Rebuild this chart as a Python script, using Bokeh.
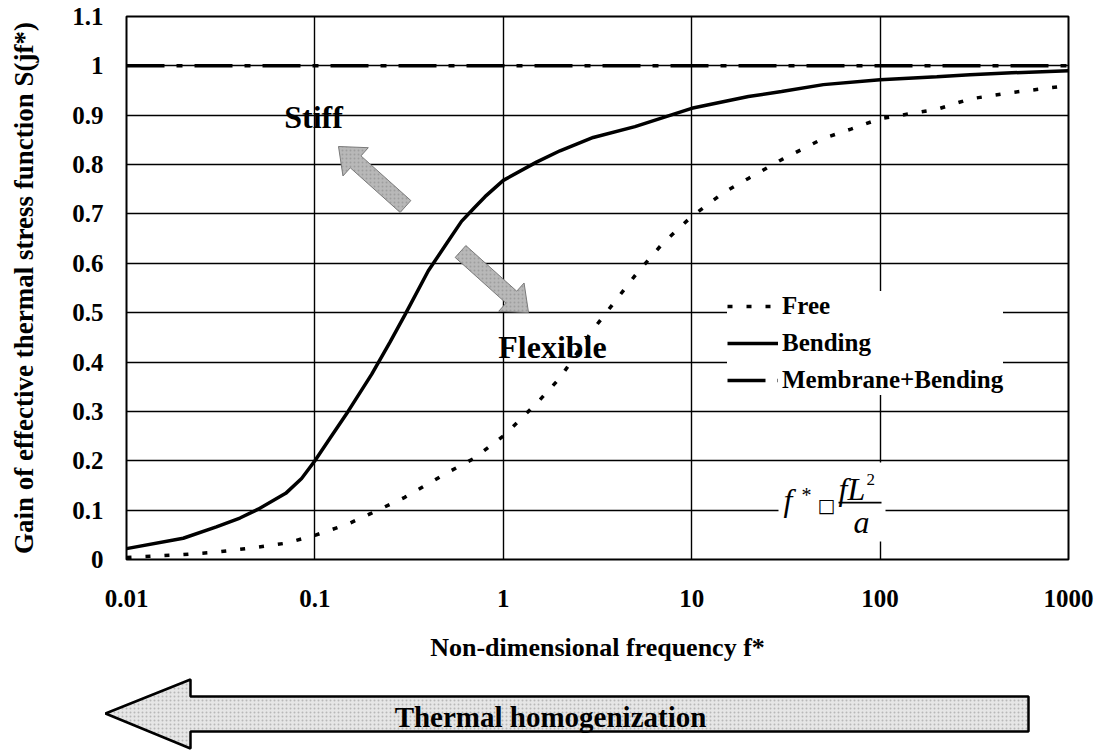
from bokeh.plotting import figure
from bokeh.models import (Range1d, FixedTicker, CustomJSTickFormatter, Label,
                          BoxAnnotation, PolyAnnotation)
from bokeh.embed import file_html
from bokeh.resources import INLINE
import math

# ---------------- data ----------------
free_f = [0.01, 0.02, 0.03, 0.05, 0.07, 0.1, 0.15, 0.2, 0.3, 0.5, 0.7, 1, 1.5, 2, 3, 5, 7,
          10, 15, 20, 30, 50, 70, 100, 200, 300, 500, 1000]
free_s = [0.004, 0.01, 0.015, 0.025, 0.033, 0.049, 0.072, 0.094, 0.126, 0.175, 0.205, 0.25,
          0.316, 0.368, 0.466, 0.575, 0.64, 0.695, 0.745, 0.772, 0.81, 0.853, 0.872, 0.893,
          0.912, 0.933, 0.946, 0.96]

bend_f = [0.01, 0.02, 0.03, 0.04, 0.05, 0.07, 0.085, 0.1, 0.12, 0.15, 0.2, 0.25, 0.3, 0.4,
          0.5, 0.6, 0.7, 0.8, 1, 1.5, 2, 3, 5, 10, 20, 30, 50, 100, 200, 300, 500, 1000]
bend_s = [0.022, 0.043, 0.066, 0.084, 0.102, 0.134, 0.164, 0.2, 0.245, 0.30, 0.375, 0.44,
          0.495, 0.585, 0.64, 0.685, 0.712, 0.735, 0.768, 0.805, 0.828, 0.855, 0.877, 0.914,
          0.938, 0.948, 0.962, 0.972, 0.978, 0.982, 0.986, 0.99]

memb_f = [0.01, 1000]
memb_s = [1.0, 1.0]

x_ticks = [0.01, 0.1, 1, 10, 100, 1000]
y_ticks = [0, 0.1, 0.2, 0.3, 0.4, 0.5, 0.6, 0.7, 0.8, 0.9, 1.0, 1.1]

FONT = "Liberation Serif"

# ---------------- layout constants (pixels) ----------------
W, H1, H2 = 1109, 670, 81
FX0, FX1, FY0, FY1 = 126, 1068, 16, 559


def sx(px):
    return 10 ** (-2 + 5.0 * (px - FX0) / (FX1 - FX0))


def sy(py):
    return 1.1 * (FY1 - py) / (FY1 - FY0)


p = figure(width=W, height=H1, x_axis_type="log",
           x_range=Range1d(0.01, 1000), y_range=Range1d(0, 1.1),
           output_backend="svg", toolbar_location=None,
           min_border_left=FX0, min_border_right=W - FX1,
           min_border_top=FY0, min_border_bottom=H1 - FY1)
p.background_fill_color = "white"
p.border_fill_color = "white"
p.outline_line_color = "black"
p.outline_line_width = 2

xt = FixedTicker(ticks=x_ticks, minor_ticks=[])
yt = FixedTicker(ticks=y_ticks, minor_ticks=[])
p.xaxis.ticker = xt
p.yaxis.ticker = yt
p.xgrid.ticker = xt
p.ygrid.ticker = yt
p.xaxis.formatter = CustomJSTickFormatter(code="return Number(tick.toPrecision(3)).toString();")
p.yaxis.formatter = CustomJSTickFormatter(code="return Number(tick.toFixed(2)).toString();")

for ax in (p.xaxis, p.yaxis):
    ax.axis_line_color = None
    ax.major_tick_line_color = None
    ax.minor_tick_line_color = None
    ax.major_tick_out = 0
    ax.major_tick_in = 0
    ax.major_label_text_font = FONT
    ax.major_label_text_font_style = "bold"
    ax.major_label_text_font_size = "25px"
    ax.major_label_text_color = "black"
    ax.axis_label_text_font = FONT
    ax.axis_label_text_font_style = "bold"
    ax.axis_label_text_color = "black"

p.xaxis.major_label_standoff = 30
p.yaxis.major_label_standoff = 23
p.xaxis.axis_label = "Non-dimensional frequency f*"
p.yaxis.axis_label = "Gain of effective thermal stress function S(jf*)"
p.xaxis.axis_label_text_font_size = "26px"
p.yaxis.axis_label_text_font_size = "27px"
p.xaxis.axis_label_standoff = 23
p.yaxis.axis_label_standoff = 30

for g in (p.xgrid, p.ygrid):
    g.grid_line_color = "black"
    g.grid_line_width = 1.4

# ---------------- curves ----------------
p.line(free_f, free_s, line_color="black", line_width=3.5, line_dash="5 14",
       legend_label="Free")
p.line(bend_f, bend_s, line_color="black", line_width=3.5, legend_label="Bending")
p.line(memb_f, memb_s, line_color="black", line_width=3.5, line_dash="38 12 6 12",
       legend_label="Membrane+Bending")

lg = p.legend[0]
lg.location = (727 - FX0, FY1 - 395)
lg.background_fill_color = "white"
lg.background_fill_alpha = 1.0
lg.border_line_color = None
lg.padding = 5
lg.margin = 0
lg.spacing = 7
lg.glyph_width = 51
lg.glyph_height = 30
lg.label_height = 30
lg.label_standoff = 4
lg.label_text_font = FONT
lg.label_text_font_style = "bold"
lg.label_text_font_size = "25px"
lg.label_text_color = "black"
lg.label_text_baseline = "middle"


# ---------------- block arrows ----------------
def block_arrow(tail, tip, w, hw, hl):
    dx, dy = tip[0] - tail[0], tip[1] - tail[1]
    L = math.hypot(dx, dy)
    ux, uy = dx / L, dy / L
    nx, ny = -uy, ux
    hx, hy = tip[0] - ux * hl, tip[1] - uy * hl
    pts = [(tail[0] + nx * w, tail[1] + ny * w), (hx + nx * w, hy + ny * w),
           (hx + nx * hw, hy + ny * hw), tip, (hx - nx * hw, hy - ny * hw),
           (hx - nx * w, hy - ny * w), (tail[0] - nx * w, tail[1] - ny * w)]
    return [sx(a) for a, b in pts], [sy(b) for a, b in pts]


for tail, tip in (((405, 206), (338, 146)), ((460, 251), (528, 312))):
    xs, ys = block_arrow(tail, tip, 8, 19, 23)
    p.add_layout(PolyAnnotation(xs=xs, ys=ys, fill_color="#b8b8b8", fill_alpha=1.0,
                                line_color="#7a7a7a", line_alpha=1.0, line_width=1,
                                hatch_pattern="dot", hatch_color="#8c8c8c",
                                hatch_alpha=0.6, hatch_scale=4))

# ---------------- text annotations ----------------
p.add_layout(Label(x=sx(313), y=sy(116), text="Stiff", text_align="center",
                   text_baseline="middle", text_font=FONT, text_font_style="bold",
                   text_font_size="32px", text_color="black"))
p.add_layout(Label(x=sx(552), y=sy(346), text="Flexible", text_align="center",
                   text_baseline="middle", text_font=FONT, text_font_style="bold",
                   text_font_size="32px", text_color="black"))

# formula  f* □ fL^2 / a
p.add_layout(BoxAnnotation(left=sx(778), right=sx(885), top=sy(462), bottom=sy(541),
                           fill_color="white", fill_alpha=1.0, line_color=None))


def lab(px, py, text, size, style="italic", align="left", font=FONT):
    p.add_layout(Label(x=sx(px), y=sy(py), text=text, text_align=align,
                       text_baseline="middle", text_font=font, text_font_style=style,
                       text_font_size=size, text_color="black"))


lab(783, 499, "f", "32px")
lab(801, 494, "*", "20px", style="normal")
lab(826, 504, "\u25a1", "19px", style="normal", align="center", font="DejaVu Sans")
lab(838, 488, "fL", "32px")
lab(866, 479, "2", "17px", style="normal")
lab(861, 521, "a", "32px", align="center")
p.add_layout(BoxAnnotation(left=sx(838), right=sx(881), top=sy(501.3), bottom=sy(503),
                           fill_color="black", fill_alpha=1.0, line_color=None))

# ---------------- bottom arrow panel (separate root, full width frame) ----------------
p2 = figure(width=W, height=H2, x_range=Range1d(0, W), y_range=Range1d(H1 + H2, H1),
            output_backend="svg", toolbar_location=None,
            x_axis_location=None, y_axis_location=None,
            min_border_left=0, min_border_right=0,
            min_border_top=0, min_border_bottom=0)
p2.outline_line_color = None
p2.grid.visible = False
p2.background_fill_color = "white"
p2.border_fill_color = "white"

arrow_x = [105, 190, 190, 1028, 1028, 190, 190]
arrow_y = [713, 679, 696, 696, 731, 731, 748]
p2.add_layout(PolyAnnotation(xs=arrow_x, ys=arrow_y, fill_color="#e6e6e6", fill_alpha=1.0,
                             line_color="black", line_alpha=1.0, line_width=2.5,
                             hatch_pattern="dot", hatch_color="#9a9a9a",
                             hatch_alpha=0.6, hatch_scale=4))
p2.add_layout(Label(x=550, y=716, text="Thermal homogenization", text_align="center",
                    text_baseline="middle", text_font=FONT, text_font_style="bold",
                    text_font_size="29px", text_color="black"))

open("out.html", "w").write(file_html([p, p2], INLINE))
